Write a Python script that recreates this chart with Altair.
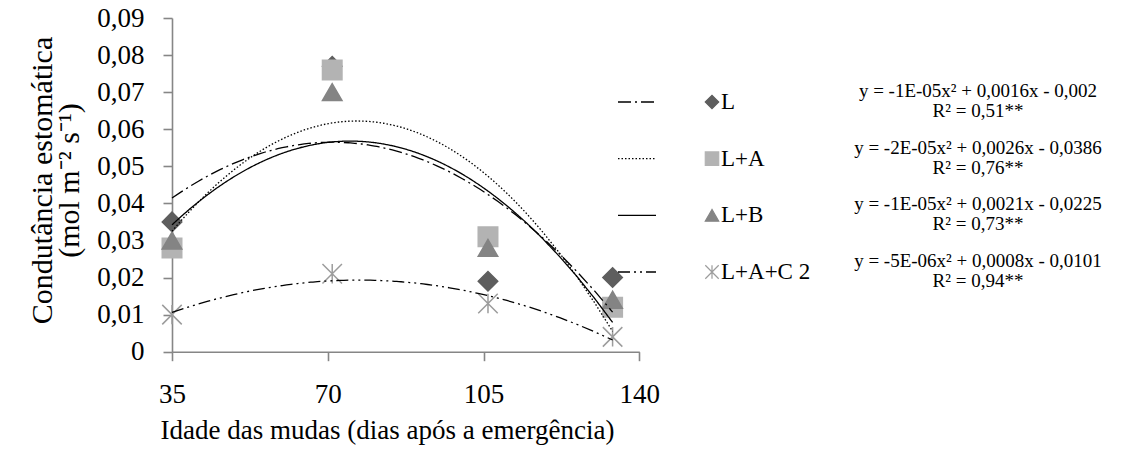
import altair as alt
import pandas as pd

# Seedling age (days after emergence) at each measurement
days = [35, 71, 106, 134]

# Treatments and their stomatal conductance (mol m-2 s-1)
series_names = ["L", "L+A", "L+B", "L+A+C 2"]
l_values = [0.035, 0.077, 0.019, 0.020]
la_values = [0.028, 0.076, 0.031, 0.012]
lb_values = [0.030, 0.070, 0.028, 0.014]
lac_values = [0.010, 0.021, 0.013, 0.004]

# Fitted quadratic trend equations shown beside the legend
equations = [
    "y = -1E-05x² + 0,0016x - 0,002",
    "y = -2E-05x² + 0,0026x - 0,0386",
    "y = -1E-05x² + 0,0021x - 0,0225",
    "y = -5E-06x² + 0,0008x - 0,0101",
]
r2_labels = ["R² = 0,51**", "R² = 0,76**", "R² = 0,73**", "R² = 0,94**"]

x_ticks = [35, 70, 105, 140]
y_ticks = [0, 0.01, 0.02, 0.03, 0.04, 0.05, 0.06, 0.07, 0.08, 0.09]

rows = []
for name, vals in zip(series_names, [l_values, la_values, lb_values, lac_values]):
    for d, v in zip(days, vals):
        rows.append({"series": name, "day": d, "value": v})
points_df = pd.DataFrame(rows)

legend_df = pd.DataFrame({
    "series": series_names,
    "row": list(range(len(series_names))),
    "equation": equations,
    "r2": r2_labels,
})

FONT = "Liberation Serif"
AXIS_GRAY = "#868686"
marker_colors = ["#5e5e5e", "#b3b3b3", "#848484", "#9c9c9c"]
marker_shapes = ["diamond", "square", "triangle-up",
                 "M -1 -1 L 1 1 M -1 1 L 1 -1 M 0 -1 L 0 1"]
dashes = [[13, 4, 2, 4], [1.5, 2], [1, 0], [12, 4, 2, 4, 2, 4]]

color_scale = alt.Scale(domain=series_names, range=marker_colors)
shape_scale = alt.Scale(domain=series_names, range=marker_shapes)
dash_scale = alt.Scale(domain=series_names, range=dashes)
x_scale = alt.Scale(domain=[35, 140], nice=False, zero=False)
y_scale = alt.Scale(domain=[0, 0.09], nice=False, zero=True)
row_scale = alt.Scale(domain=[0, 3], range=[84, 254])

axis_style = dict(
    grid=False, ticks=True, tickSize=9, tickColor=AXIS_GRAY, tickWidth=1.6,
    domain=True, domainColor=AXIS_GRAY, domainWidth=1.6,
    labelFont=FONT, labelFontSize=27, labelColor="black",
    titleFont=FONT, titleFontWeight="normal", titleColor="black",
)

x_axis = alt.Axis(
    values=x_ticks, labelPadding=21, labelFlush=False,
    title="Idade das mudas (dias após a emergência)",
    titleFontSize=27, titlePadding=10, titleX=215, titleAlign="center",
    **axis_style,
)
y_axis = alt.Axis(
    values=y_ticks, labelPadding=19,
    labelExpr="datum.value === 0 ? '0' : replace(format(datum.value, '.2f'), '.', ',')",
    title=["Condutância estomática", "(mol m⁻² s⁻¹)"],
    titleFontSize=30, titleAngle=270, titleAlign="center", titleBaseline="middle",
    titleLineHeight=27, titleX=-130, titleY=162,
    **axis_style,
)

base = alt.Chart(points_df)

points = base.mark_point(filled=True, size=380, strokeWidth=1.5, opacity=1).encode(
    x=alt.X("day:Q", scale=x_scale, axis=x_axis),
    y=alt.Y("value:Q", scale=y_scale, axis=y_axis),
    shape=alt.Shape("series:N", scale=shape_scale, legend=None),
    color=alt.Color("series:N", scale=color_scale, legend=None),
    stroke=alt.Stroke("series:N", scale=color_scale, legend=None),
)

trend = base.transform_regression(
    "day", "value", method="poly", order=2, groupby=["series"], extent=[35, 134]
).mark_line(color="black", strokeWidth=1.3).encode(
    x=alt.X("day:Q", scale=x_scale),
    y=alt.Y("value:Q", scale=y_scale, axis=None),
    strokeDash=alt.StrokeDash("series:N", scale=dash_scale, legend=None),
)

leg = alt.Chart(legend_df)
leg_y = alt.Y("row:Q", scale=row_scale, axis=None)

leg_lines = leg.mark_rule(color="black", strokeWidth=1.3).encode(
    x=alt.value(446), x2=alt.value(484), y=leg_y,
    strokeDash=alt.StrokeDash("series:N", scale=dash_scale, legend=None),
)
leg_marks = leg.mark_point(filled=True, size=180, strokeWidth=1.2, opacity=1).encode(
    x=alt.value(540), y=leg_y,
    shape=alt.Shape("series:N", scale=shape_scale, legend=None),
    color=alt.Color("series:N", scale=color_scale, legend=None),
    stroke=alt.Stroke("series:N", scale=color_scale, legend=None),
)
leg_labels = leg.mark_text(
    align="left", baseline="middle", font=FONT, fontSize=23, color="black"
).encode(x=alt.value(549), y=leg_y, text="series:N")
leg_eq = leg.mark_text(
    align="center", baseline="middle", font=FONT, fontSize=19, color="black", dy=-11
).encode(x=alt.value(806), y=leg_y, text="equation:N")
leg_r2 = leg.mark_text(
    align="center", baseline="middle", font=FONT, fontSize=19, color="black", dy=9
).encode(x=alt.value(806), y=leg_y, text="r2:N")

chart = alt.layer(
    points, trend, leg_lines, leg_marks, leg_labels, leg_eq, leg_r2
).resolve_scale(
    y="independent"
).properties(
    width=467.3,
    height=333.7,
    autosize=alt.AutoSizeParams(type="none"),
    padding={"left": 172, "top": 18, "right": 498.7, "bottom": 104.3},
    background="white",
).configure_view(
    stroke=None
)

chart.save("out.html", embed_options={"renderer": "svg", "actions": False})
